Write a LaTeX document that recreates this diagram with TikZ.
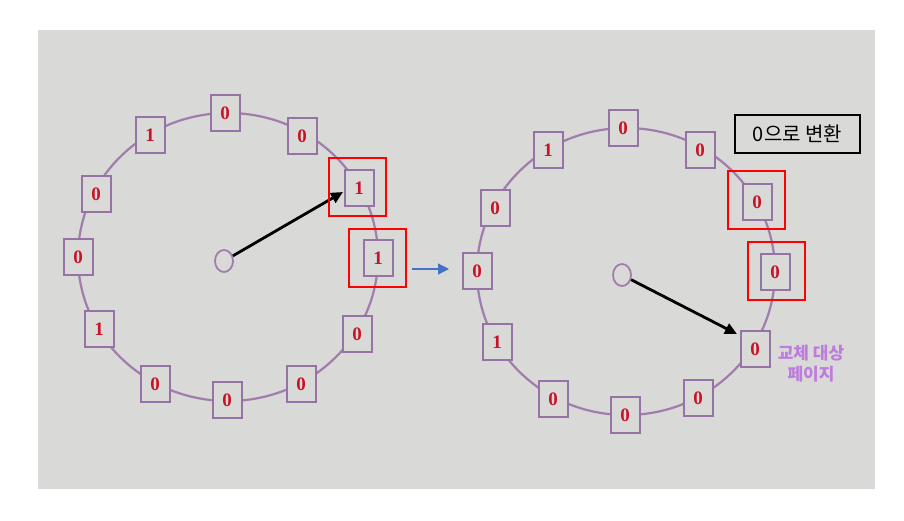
\documentclass[tikz,border=0pt]{standalone}
\usepackage{fontspec}
\setmainfont{Liberation Serif}
\newfontfamily\kr{Noto Sans CJK KR}
\usetikzlibrary{arrows.meta,shapes.geometric}
\definecolor{bg}{RGB}{217,217,215}
\definecolor{ring}{RGB}{160,125,172}
\definecolor{boxline}{RGB}{150,115,165}
\definecolor{digit}{RGB}{200,20,40}
\definecolor{lbl}{RGB}{190,125,220}
\definecolor{blue}{RGB}{68,114,196}
\tikzset{
  page/.style={draw=boxline,line width=2pt,fill=bg,minimum width=29pt,minimum height=36pt,inner sep=0pt,
    font=\fontsize{19}{19}\selectfont\bfseries,text=digit},
  hilite/.style={draw=red,line width=1.8pt,minimum width=57pt,minimum height=58pt,inner sep=0pt},
  hub/.style={draw=ring,line width=1.8pt,ellipse,minimum width=18pt,minimum height=22pt,inner sep=0pt},
  ringline/.style={draw=ring,line width=2.2pt},
  hand/.style={draw=black,line width=2.8pt,-{Triangle[length=12pt,width=11pt]}},
}
\begin{document}
\begin{tikzpicture}[x=1pt,y=-1pt]
\useasboundingbox (0,0) rectangle (904,520);
\fill[bg] (38,30) rectangle (875,489);
% left clock
\draw[ringline] (228,257) ellipse [x radius=150,y radius=144];
\node[page] (L90)  at (225,113) {0};
\node[page] (L60)  at (302,136) {0};
\node[page] (L30)  at (359,188) {1};
\node[page] (L0)   at (378,258) {1};
\node[page] (Lm30) at (357,334) {0};
\node[page] (Lm60) at (301,384) {0};
\node[page] (Lm90) at (227,400) {0};
\node[page] (Lm120) at (155,384) {0};
\node[page] (Lm150) at (99,329) {1};
\node[page] (L180) at (78,257) {0};
\node[page] (L150) at (96,194) {0};
\node[page] (L120) at (150,135) {1};
\node[hub] (Lhub) at (224,261) {};
\coordinate (Ltip) at (343,192);
\draw[hand] (Lhub) -- (Ltip);
\node[hilite] (LR1) at (357.7,186.6) {};
\node[hilite] (LR2) at (377.7,257.7) {};
% blue arrow
\coordinate (Ba) at (412,269);
\coordinate (Bb) at (449,269);
\draw[blue,line width=1.2pt,-{Triangle[length=11pt,width=11pt]}] (Ba) -- (Bb);
% right clock
\draw[ringline] (626,271.5) ellipse [x radius=149,y radius=143.5];
\node[page] (R90)  at (623,128) {0};
\node[page] (R60)  at (700,150) {0};
\node[page] (R30)  at (757,202) {0};
\node[page] (R0)   at (775,272) {0};
\node[page] (Rm30) at (755,349) {0};
\node[page] (Rm60) at (698,398) {0};
\node[page] (Rm90) at (625,415) {0};
\node[page] (Rm120) at (553,399) {0};
\node[page] (Rm150) at (497,342) {1};
\node[page] (R180) at (477,271) {0};
\node[page] (R150) at (495,208) {0};
\node[page] (R120) at (548,150) {1};
\node[hub] (Rhub) at (622,275) {};
\coordinate (Rtip) at (737,334);
\draw[hand] (Rhub) -- (Rtip);
\node[hilite] (RR1) at (756.7,199.9) {};
\node[hilite] (RR2) at (776.8,270.9) {};
% labels
\node[text=lbl,font=\kr\fontsize{17}{21}\selectfont\bfseries,align=center] (tgt) at (811,364) {교체 대상\\페이지};
\node[draw=black,line width=1.8pt,minimum width=125pt,minimum height=38pt,inner sep=0pt,
  font=\kr\fontsize{20}{20}\selectfont] (conv) at (797.5,134) {0으로 변환};
\end{tikzpicture}
\end{document}
